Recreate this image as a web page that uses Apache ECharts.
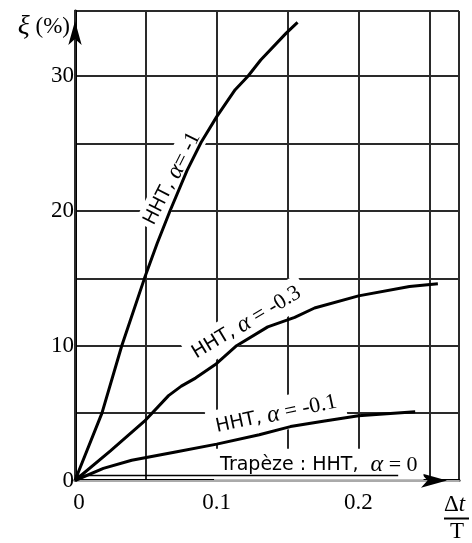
<!DOCTYPE html>
<html>
<head>
<meta charset="utf-8">
<script src="https://cdn.jsdelivr.net/npm/echarts@6/dist/echarts.min.js"></script>
<style>
html,body{margin:0;padding:0;background:#fff;}
#c{width:472px;height:543px;}
</style>
</head>
<body>
<div id="c"></div>
<script>
// ---- data ----
const hhtAlphaM1 = [[0,0],[0.019,5],[0.033,10],[0.049,15],[0.058,17.6],[0.067,20],[0.079,23],[0.089,25.1],[0.1,27],[0.113,29],[0.122,30],[0.131,31.2],[0.149,33.2],[0.157,34.0]];
const hhtAlphaM03 = [[0,0],[0.025,2.2],[0.049,4.4],[0.066,6.3],[0.075,7.0],[0.085,7.6],[0.099,8.6],[0.114,10],[0.136,11.4],[0.155,12.1],[0.169,12.8],[0.2,13.7],[0.236,14.4],[0.256,14.6]];
const hhtAlphaM01 = [[0,0],[0.02,0.9],[0.04,1.5],[0.07,2.1],[0.1,2.7],[0.13,3.4],[0.152,4.0],[0.175,4.4],[0.2,4.8],[0.24,5.1]];
const trapeze = [[0,0.37],[0.228,0.37]];
const xTickLabels = [0, 0.1, 0.2];
const yTickLabels = [0, 10, 20, 30];
const seriesLabels = ['HHT, α= -1', 'HHT, α = -0.3', 'HHT, α = -0.1', 'Trapèze : HHT,  α = 0'];

const X_MAX = 0.2709, Y_MAX = 34.84;

const richText = {
  s: {fontFamily: 'DejaVu Sans', fontSize: 19, color: '#000'},
  g: {fontFamily: 'Liberation Serif', fontStyle: 'italic', fontSize: 24, color: '#000'},
  r: {fontFamily: 'Liberation Serif', fontSize: 22, color: '#000'}
};
function richLabel(t) {
  const i = t.indexOf('α');
  return '{s|' + t.slice(0, i) + '}{g|α}{r|' + t.slice(i + 1) + '}';
}
function mp(coord, rot, text, pad) {
  return {
    z: 1,
    symbol: 'circle', symbolSize: 0,
    label: {
      show: true, position: 'inside', rotate: rot,
      formatter: richLabel(text), rich: richText,
      backgroundColor: '#fff', padding: pad
    },
    data: [{coord: coord}]
  };
}
function near(v, list) { return list.some(t => Math.abs(t - v) < 1e-6); }

const chart = echarts.init(document.getElementById('c'), null, {renderer: 'canvas'});
const lineStyle = {color: '#000', width: 3};
chart.setOption({
  animation: false,
  backgroundColor: '#fff',
  grid: {left: 75, right: 9, top: 11, bottom: 61},
  xAxis: [{
    type: 'value', min: 0, max: X_MAX, interval: 0.05,
    axisLine: {show: true, onZero: false, lineStyle: {color: '#000', width: 3},
      symbol: ['none', 'arrow'], symbolSize: [11, 26], symbolOffset: [0, -12]},
    axisTick: {show: false},
    splitLine: {show: true, lineStyle: {color: '#2a2a2a', width: 2}},
    axisLabel: {
      margin: 11, color: '#000', fontFamily: 'Liberation Serif', fontSize: 23,
      formatter: v => near(v, xTickLabels) ? (v === 0 ? '{z|0}' : String(Math.round(v * 10) / 10)) : '',
      rich: {z: {fontFamily: 'Liberation Serif', fontSize: 23, color: '#000', padding: [0, 0, 0, 8]}}
    },
    name: '{d|Δ}{t|t}\n{u|}\n{T|T}',
    nameLocation: 'end', nameGap: -15,
    nameTextStyle: {
      align: 'left', verticalAlign: 'top', padding: [12, 0, 0, 0],
      rich: {
        d: {fontFamily: 'Liberation Serif', fontSize: 23, color: '#000', lineHeight: 24},
        t: {fontFamily: 'Liberation Serif', fontStyle: 'italic', fontSize: 23, color: '#000', lineHeight: 24},
        u: {width: 25, height: 2, backgroundColor: '#000', lineHeight: 4},
        T: {fontFamily: 'Liberation Serif', fontSize: 23, color: '#000', lineHeight: 22, padding: [0, 0, 0, 6]}
      }
    }
  }, {
    type: 'value', position: 'top', min: 0, max: X_MAX,
    axisLine: {show: true, lineStyle: {color: '#aaa', width: 2}},
    axisTick: {show: false}, axisLabel: {show: false}, splitLine: {show: false}
  }],
  yAxis: [{
    type: 'value', min: 0, max: Y_MAX, interval: 5,
    axisLine: {show: true, onZero: false, lineStyle: {color: '#000', width: 3},
      symbol: ['none', 'arrow'], symbolSize: [10, 24], symbolOffset: [0, -10]},
    axisTick: {show: false},
    splitLine: {show: true, lineStyle: {color: '#2a2a2a', width: 2}},
    axisLabel: {
      margin: 1, color: '#000', fontFamily: 'Liberation Serif', fontSize: 23,
      formatter: v => near(v, yTickLabels) ? String(v) : ''
    },
    name: '{x|ξ}{p| (%)}',
    nameLocation: 'end', nameGap: -16,
    nameTextStyle: {
      align: 'right', verticalAlign: 'middle', padding: [0, 5, 0, 0],
      rich: {
        x: {fontFamily: 'Liberation Serif', fontStyle: 'italic', fontSize: 28, color: '#000'},
        p: {fontFamily: 'Liberation Serif', fontSize: 23, color: '#000'}
      }
    }
  }, {
    type: 'value', position: 'right', min: 0, max: Y_MAX,
    axisLine: {show: true, lineStyle: {color: '#2a2a2a', width: 2}},
    axisTick: {show: false}, axisLabel: {show: false}, splitLine: {show: false}
  }],
  series: [
    {type: 'line', data: hhtAlphaM1, showSymbol: false, lineStyle: lineStyle, z: 3,
     markPoint: mp([0.0685, 22.4], 63, seriesLabels[0], [2, 4, 2, 4])},
    {type: 'line', data: hhtAlphaM03, showSymbol: false, lineStyle: lineStyle, z: 3,
     markPoint: mp([0.121, 11.7], 31, seriesLabels[1], [4, 6, 4, 6])},
    {type: 'line', data: hhtAlphaM01, showSymbol: false, lineStyle: lineStyle, z: 3,
     markPoint: mp([0.142, 4.9], 12, seriesLabels[2], [5, 8, 5, 8])},
    {type: 'line', data: trapeze, showSymbol: false, lineStyle: {color: '#000', width: 1.5}, z: 3,
     markPoint: mp([0.172, 1.2], 0, seriesLabels[3], [4, 6, 3, 6])}
  ]
});
</script>
</body>
</html>
